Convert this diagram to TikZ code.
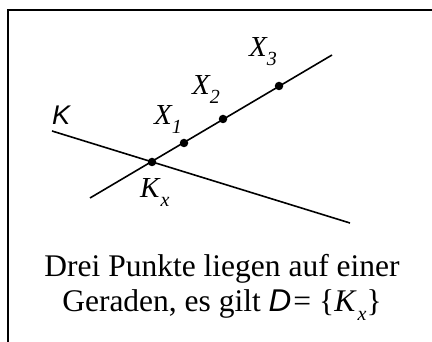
\documentclass[tikz,border=0pt]{standalone}
\usepackage{fontspec}
\setmainfont{Liberation Serif}
\newfontfamily\arl{Liberation Sans}
\newcommand{\sbx}[1]{\raisebox{-0.28em}{\fontsize{20}{20}\selectfont #1}}
\begin{document}
\begin{tikzpicture}[x=1pt,y=-1pt,
  ln/.style={line width=1.6pt},
  frame/.style={line width=2.6pt},
  dot/.style={circle,fill=black,inner sep=0pt,minimum size=8.5pt},
  lab/.style={anchor=base west,inner sep=0pt,font=\fontsize{29}{29}\selectfont\itshape},
  klab/.style={anchor=base west,inner sep=0pt,font=\fontsize{27}{27}\selectfont\arl\itshape},
  txt/.style={anchor=base,inner sep=0pt,font=\fontsize{31.5}{31.5}\selectfont}]
\useasboundingbox (0,0) rectangle (432,342);
\draw[frame] (8,342) -- (8,10) -- (432,10);
\coordinate (a1) at (90,198);
\coordinate (a2) at (332,55);
\coordinate (k1) at (52,131);
\coordinate (k2) at (350,223);
\draw[ln] (a1) -- (a2);
\draw[ln] (k1) -- (k2);
\node[dot] (kx) at (152,162) {};
\node[dot] (x1) at (184,143) {};
\node[dot] (x2) at (223,119) {};
\node[dot] (x3) at (279,86) {};
\node[klab] (lk) at (52,125) {K};
\node[lab] (lx1) at (154,125) {X\sbx{1}};
\node[lab] (lx2) at (192,95) {X\sbx{2}};
\node[lab] (lx3) at (249,57) {X\sbx{3}};
\node[lab] (lkx) at (140,198) {K\sbx{\kern1pt x}};
\node[txt] (t1) at (222,277) {Drei Punkte liegen auf einer};
\node[txt] (t2) at (222,312) {Geraden, es gilt {\arl\itshape D}\kern2pt=\kern8pt\{\textit{K}\sbx{\itshape\kern1pt x}\}};
\end{tikzpicture}
\end{document}
